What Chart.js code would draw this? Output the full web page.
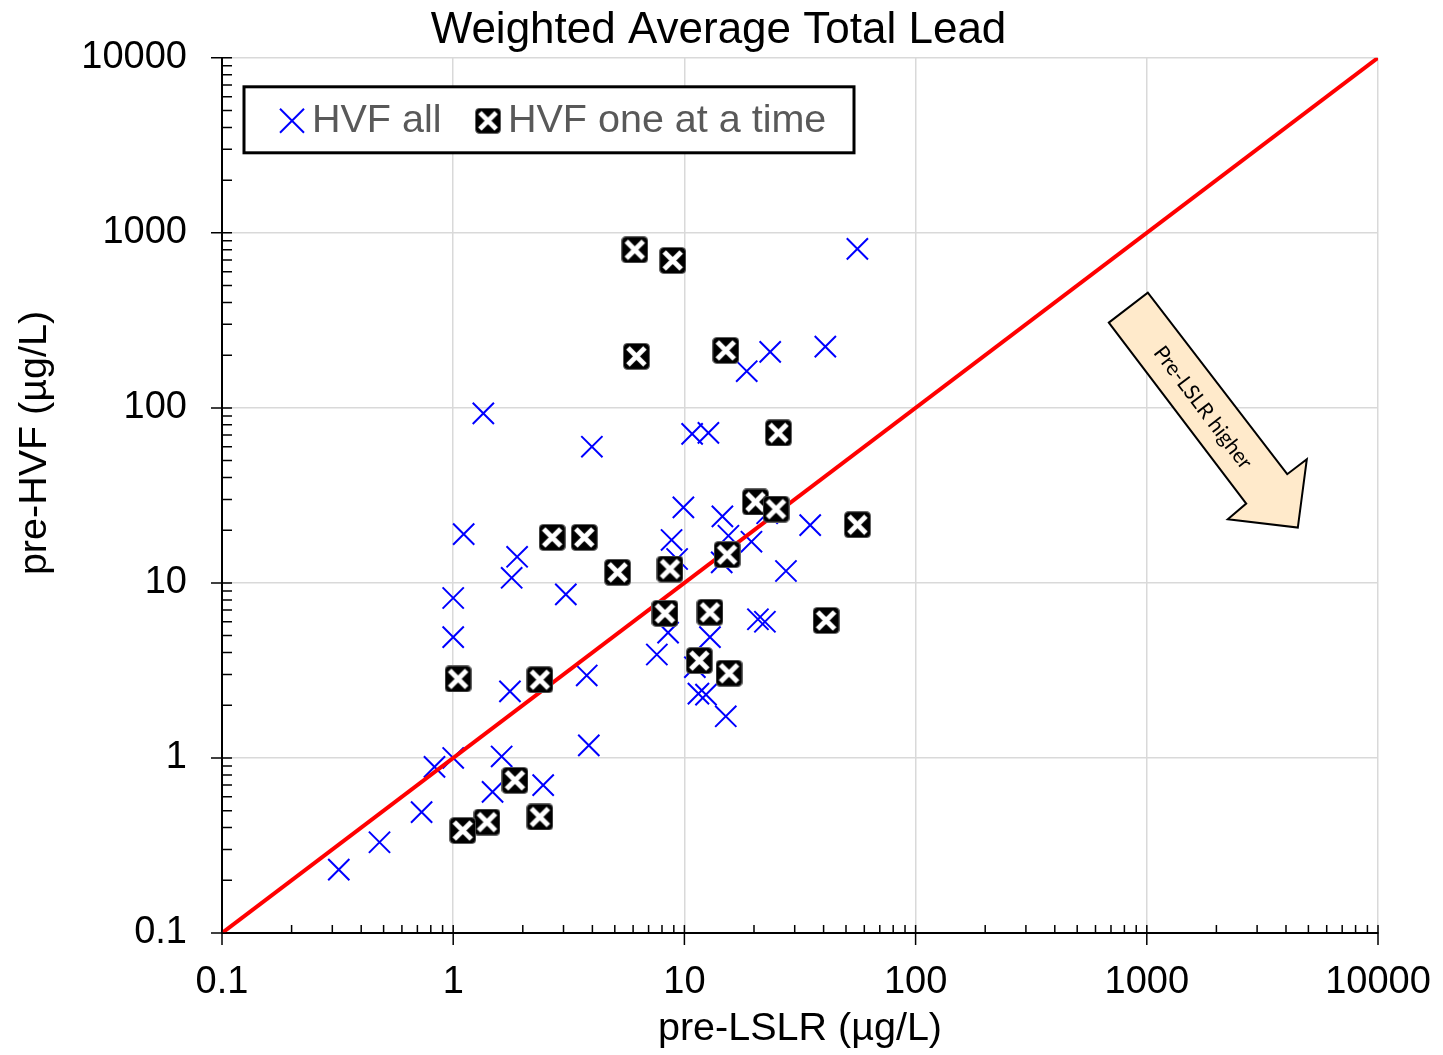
<!DOCTYPE html>
<html>
<head>
<meta charset="utf-8">
<script src="https://cdn.jsdelivr.net/npm/chart.js@4.4.1/dist/chart.umd.min.js"></script>
<style>
  html, body { margin: 0; padding: 0; background: #fff; }
  #wrap { width: 1443px; height: 1055px; }
</style>
</head>
<body>
<div id="wrap"><canvas id="leadChart" width="1443" height="1055"></canvas></div>
<script>
// HVF all (pre-LSLR, pre-HVF) in ug/L
var hvfAllX = [0.32, 0.48, 0.73, 0.83, 1.0, 1.62, 1.48, 2.45, 3.86, 1.35, 3.98, 1.11, 1.89, 1.79, 3.07, 1.0, 1.0,
  1.76, 3.78, 7.6, 8.5, 9.9, 14.6, 8.8, 9.3, 15.5, 19.5, 14.5, 35, 27.5, 20.8, 22.3, 12.9, 11.1, 11.5, 12.4,
  15.1, 22.8, 56, 23.5, 18.6, 40.7, 10.8, 12.7];
var hvfAllY = [0.23, 0.33, 0.49, 0.89, 1.0, 1.02, 0.64, 0.70, 1.18, 93, 60, 19, 14.1, 10.7, 8.6, 8.2, 4.9,
  2.4, 2.96, 3.9, 5.2, 27, 24, 17.6, 13.7, 18.6, 17.2, 13.1, 21.4, 11.7, 6.2, 6.0, 4.9, 3.3, 2.33, 2.3,
  1.73, 25, 810, 209, 162, 224, 71, 72];

// HVF one at a time
var oneAtATimeX = [6.1, 8.9, 6.2, 15.1, 25.5, 2.68, 3.69, 5.14, 8.66, 15.3, 20.3, 24.9, 41, 56,
  8.24, 12.9, 11.6, 15.6, 1.05, 2.37, 1.85, 2.37, 1.4, 1.1];
var oneAtATimeY = [800, 695, 197, 213, 72, 18.2, 18.2, 11.5, 12, 14.5, 29, 26.4, 6.1, 21.5,
  6.7, 6.8, 3.6, 3.05, 2.83, 2.8, 0.745, 0.46, 0.43, 0.385];

// 1:1 line
var lineX = [0.1, 10000];
var lineY = [0.1, 10000];

var tickValues = [0.1, 1, 10, 100, 1000, 10000];
var xTickLabels = ["0.1", "1", "10", "100", "1000", "10000"];
var yTickLabels = ["0.1", "1", "10", "100", "1000", "10000"];

var FONT = "'Liberation Sans', Arial, sans-serif";

function toPoints(xs, ys) {
  return xs.map(function (x, i) { return { x: x, y: ys[i] }; });
}

function makeBoxMarker(size) {
  var c = document.createElement("canvas");
  c.width = size;
  c.height = size;
  var g = c.getContext("2d");
  g.fillStyle = "#000";
  g.strokeStyle = "#666";
  g.lineWidth = 1;
  g.beginPath();
  if (g.roundRect) g.roundRect(0.5, 0.5, size - 1, size - 1, 4);
  else g.rect(0.5, 0.5, size - 1, size - 1);
  g.fill();
  g.stroke();
  g.strokeStyle = "#fff";
  g.lineWidth = 5;
  g.beginPath();
  g.moveTo(5, 5); g.lineTo(size - 5, size - 5);
  g.moveTo(size - 5, 5); g.lineTo(5, size - 5);
  g.stroke();
  return c;
}
var boxMarker = makeBoxMarker(27);

// axis ticks, y title, legend box and the arrow note
var extrasPlugin = {
  id: "extras",
  afterDraw: function (chart) {
    var ctx = chart.ctx;
    var area = chart.chartArea;
    var xs = chart.scales.x, ys = chart.scales.y;
    ctx.save();
    ctx.strokeStyle = "#000";
    ctx.lineWidth = 1.5;
    ctx.beginPath();
    tickValues.forEach(function (v) {
      var px = xs.getPixelForValue(v);
      ctx.moveTo(px, area.bottom - 8); ctx.lineTo(px, area.bottom + 12);
      var py = ys.getPixelForValue(v);
      ctx.moveTo(area.left - 11, py); ctx.lineTo(area.left + 10, py);
    });
    for (var d = 0.1; d < 5000; d *= 10) {
      for (var k = 2; k <= 9; k++) {
        var px = xs.getPixelForValue(d * k);
        ctx.moveTo(px, area.bottom); ctx.lineTo(px, area.bottom - 8);
        var py = ys.getPixelForValue(d * k);
        ctx.moveTo(area.left, py); ctx.lineTo(area.left + 10, py);
      }
    }
    ctx.stroke();

    // y axis title
    ctx.save();
    ctx.translate(35, 443);
    ctx.rotate(-Math.PI / 2);
    ctx.fillStyle = "#000";
    ctx.font = "39.5px " + FONT;
    ctx.textAlign = "center";
    ctx.textBaseline = "middle";
    ctx.fillText("pre-HVF (µg/L)", 0, 0);
    ctx.restore();

    // legend
    var lx = area.left + 22, ly = area.top + 29;
    ctx.fillStyle = "#fff";
    ctx.fillRect(lx, ly, 610, 66);
    ctx.lineWidth = 3;
    ctx.strokeRect(lx, ly, 610, 66);
    var my = ly + 34;
    ctx.strokeStyle = "#0000FF";
    ctx.lineWidth = 2;
    ctx.beginPath();
    ctx.moveTo(lx + 36, my - 12); ctx.lineTo(lx + 60, my + 12);
    ctx.moveTo(lx + 60, my - 12); ctx.lineTo(lx + 36, my + 12);
    ctx.stroke();
    ctx.drawImage(boxMarker, lx + 231, my - 13, 26, 26);
    ctx.fillStyle = "#595959";
    ctx.font = "39.5px " + FONT;
    ctx.textAlign = "left";
    ctx.textBaseline = "middle";
    ctx.fillText("HVF all", lx + 68, my);
    ctx.fillText("HVF one at a time", lx + 264, my);

    // arrow note
    var tx = xs.getPixelForValue(4500), ty = ys.getPixelForValue(20.7);
    var shape = [[-189, -205], [-150, -235], [-10.6, -53.4], [9, -68.4], [0, 0], [-70, -8.4], [-51.6, -24]];
    ctx.beginPath();
    shape.forEach(function (p, i) {
      if (i === 0) ctx.moveTo(tx + p[0], ty + p[1]);
      else ctx.lineTo(tx + p[0], ty + p[1]);
    });
    ctx.closePath();
    ctx.fillStyle = "#FFEACB";
    ctx.fill();
    ctx.strokeStyle = "#000";
    ctx.lineWidth = 2;
    ctx.lineJoin = "miter";
    ctx.stroke();
    ctx.save();
    ctx.translate(tx - 95, ty - 120);
    ctx.rotate(52.8 * Math.PI / 180);
    ctx.fillStyle = "#000";
    ctx.font = "21px Lato, 'Open Sans', sans-serif";
    ctx.textAlign = "center";
    ctx.textBaseline = "middle";
    ctx.fillText("Pre-LSLR higher", 0, 0);
    ctx.restore();
    ctx.restore();
  }
};

var ctx = document.getElementById("leadChart").getContext("2d");
var leadChart = new Chart(ctx, {
  type: "scatter",
  data: {
    datasets: [
      {
        label: "HVF one at a time",
        data: toPoints(oneAtATimeX, oneAtATimeY),
        pointStyle: boxMarker,
        order: 0,
      },
      {
        type: "line",
        label: "1:1",
        data: toPoints(lineX, lineY),
        borderColor: "#FF0000",
        borderWidth: 4,
        pointRadius: 0,
        fill: false,
        order: 1,
      },
      {
        label: "HVF all",
        data: toPoints(hvfAllX, hvfAllY),
        pointStyle: "crossRot",
        pointRadius: 15,
        borderColor: "#0000FF",
        backgroundColor: "#0000FF",
        borderWidth: 2,
        order: 2,
      },
    ],
  },
  options: {
    responsive: false,
    animation: false,
    events: [],
    layout: { padding: { left: 59, right: 65, top: 0, bottom: 0 } },
    plugins: {
      legend: { display: false },
      tooltip: { enabled: false },
      title: {
        display: true,
        text: "Weighted Average Total Lead",
        color: "#000",
        font: { family: FONT, size: 44, weight: "normal" },
        padding: { top: 2, bottom: 1 },
      },
    },
    scales: {
      x: {
        type: "logarithmic",
        min: 0.1,
        max: 10000,
        afterBuildTicks: function (scale) {
          scale.ticks = tickValues.map(function (v) { return { value: v }; });
        },
        afterFit: function (scale) {
          scale.height = 122;
          scale.paddingLeft = 0;
          scale.paddingRight = 0;
        },
        grid: { color: "#d9d9d9", lineWidth: 1.5, drawTicks: false },
        border: { display: true, color: "#000", width: 2 },
        ticks: {
          autoSkip: false,
          maxRotation: 0,
          padding: 27,
          color: "#000",
          font: { family: FONT, size: 38 },
          callback: function (v, i) { return xTickLabels[i]; },
        },
        title: {
          display: true,
          text: "pre-LSLR (µg/L)",
          color: "#000",
          font: { family: FONT, size: 39.5 },
          padding: { top: 0, bottom: 2 },
        },
      },
      y: {
        type: "logarithmic",
        min: 0.1,
        max: 10000,
        afterBuildTicks: function (scale) {
          scale.ticks = tickValues.map(function (v) { return { value: v }; });
        },
        afterFit: function (scale) { scale.width = 163; },
        grid: { color: "#d9d9d9", lineWidth: 1.5, drawTicks: false },
        border: { display: true, color: "#000", width: 2 },
        ticks: {
          autoSkip: false,
          padding: 35,
          color: "#000",
          font: { family: FONT, size: 38 },
          callback: function (v, i) { return yTickLabels[i]; },
        },
      },
    },
  },
  plugins: [extrasPlugin],
});
</script>
</body>
</html>
